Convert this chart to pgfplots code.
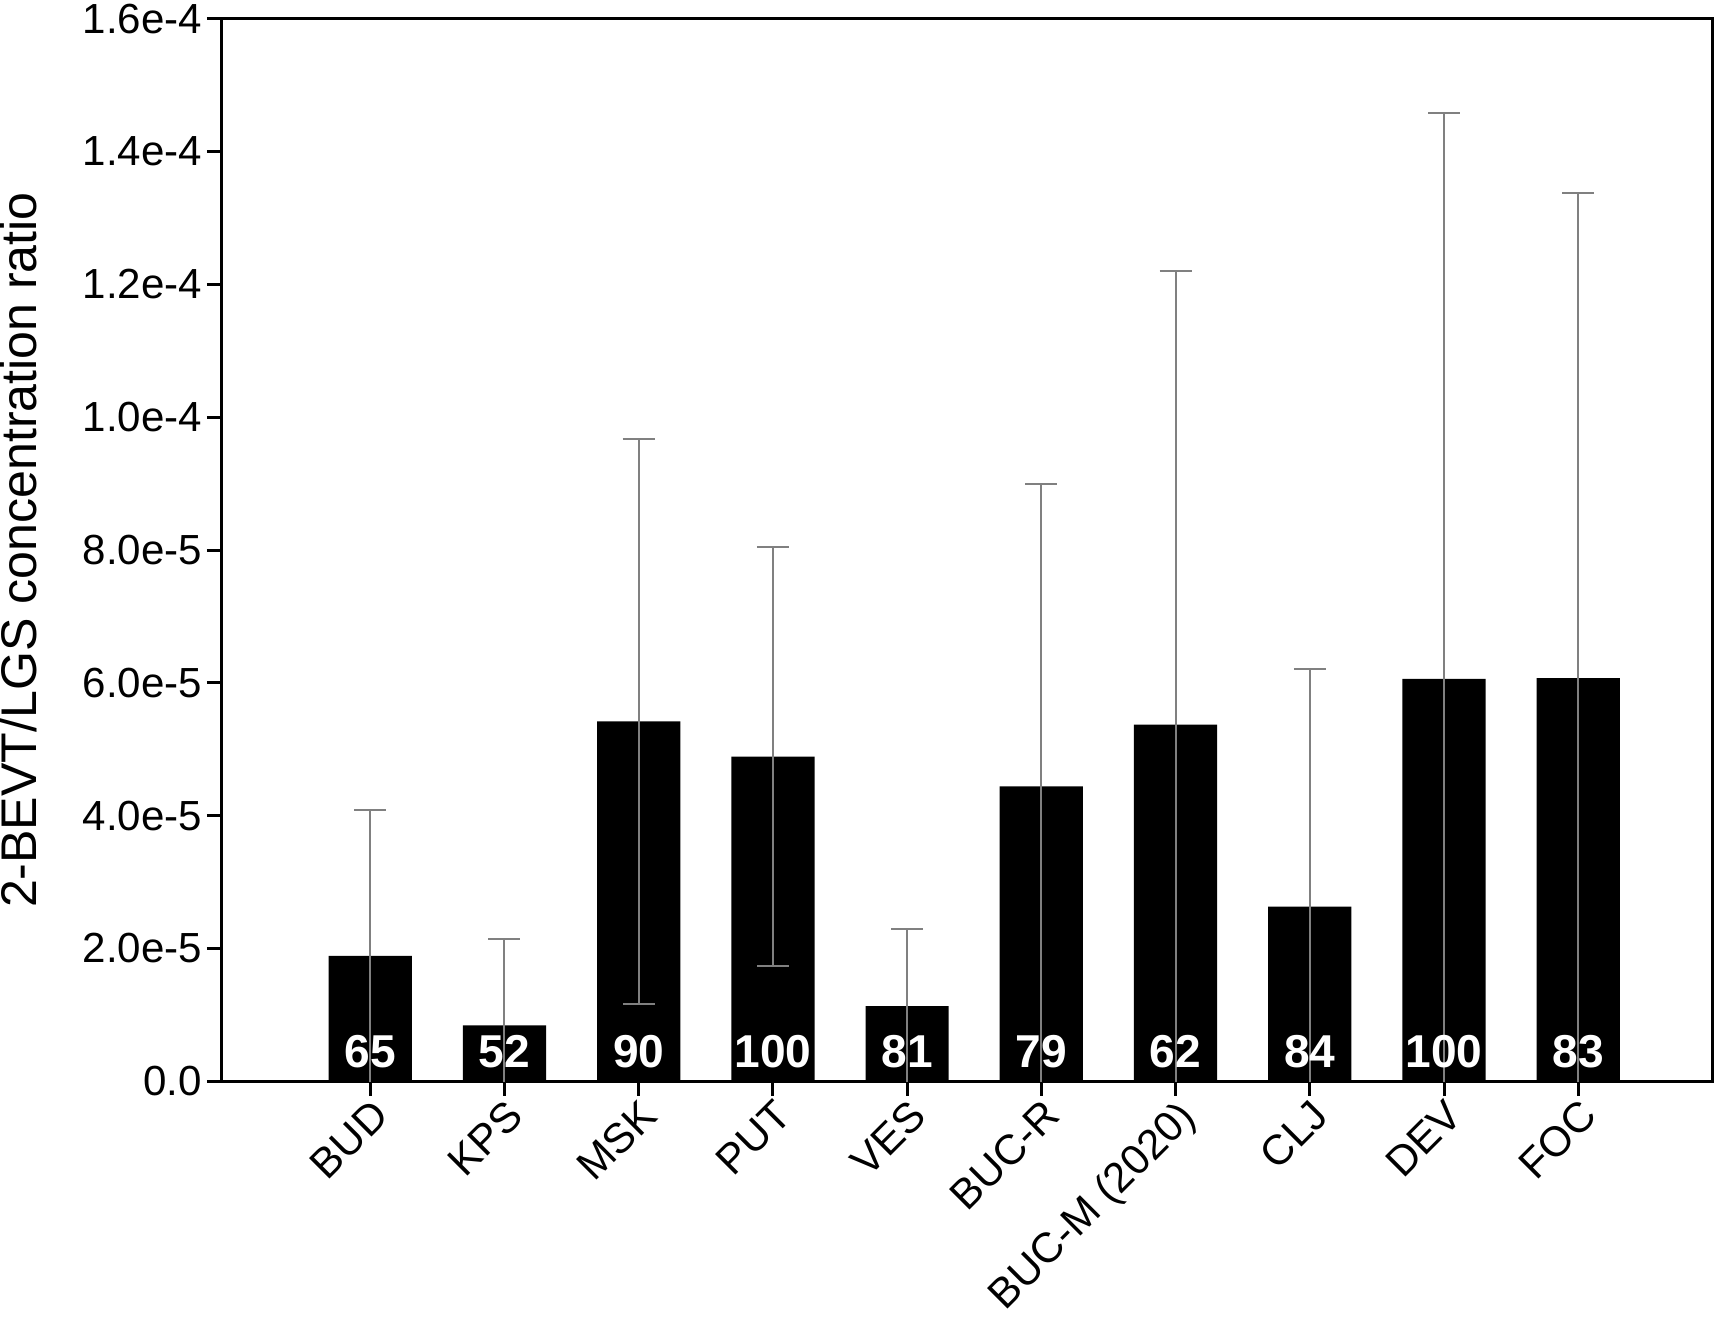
\documentclass[border=0pt]{standalone}
\usepackage{fontspec}
\setmainfont{Liberation Sans}
\usepackage{pgfplots}
\pgfplotsset{compat=1.18}

\begin{document}
\begin{tikzpicture}
\begin{axis}[
  width=372pt, height=265pt, scale only axis,
  xmin=-1.11, xmax=10,
  ymin=0, ymax=1.6e-4,
  axis line style={line width=0.75pt},
  tick align=outside,
  tick pos=left,
  major tick length=3.6pt,
  tick style={black, line width=0.75pt},
  xtick={0,...,9},
  xticklabels={BUD,KPS,MSK,PUT,VES,BUC-R,BUC-M (2020),CLJ,DEV,FOC},
  xticklabel shift=-4.5pt,
  xticklabel style={rotate=45, anchor=north east, font=\fontsize{10.5}{12}\selectfont},
  ytick={0,2e-5,4e-5,6e-5,8e-5,1e-4,1.2e-4,1.4e-4,1.6e-4},
  yticklabels={0.0,2.0e-5,4.0e-5,6.0e-5,8.0e-5,1.0e-4,1.2e-4,1.4e-4,1.6e-4},
  scaled y ticks=false,
  yticklabel style={font=\fontsize{10.5}{12}\selectfont, inner sep=1pt},
  ylabel={2-BEVT/LGS concentration ratio},
  every axis y label/.style={at={(axis description cs:-0.136,0.5)}, rotate=90, anchor=center, inner sep=0pt, font=\fontsize{12.5}{15}\selectfont},
]

% mean values
\addplot[ybar, bar width=0.62, fill=black, draw=none] coordinates {
  (0,1.89e-5) (1,0.84e-5) (2,5.42e-5) (3,4.89e-5) (4,1.13e-5)
  (5,4.44e-5) (6,5.37e-5) (7,2.63e-5) (8,6.06e-5) (9,6.07e-5)
};

% standard deviations
\addplot[draw=none, mark=none,
  error bars/.cd, y dir=both, y explicit,
  error mark=|,
  error bar style={draw=gray, line width=0.5pt},
  error mark options={draw=gray, line width=0.5pt, mark size=4pt}]
  coordinates {
  (0,1.89e-5) +- (0,2.19e-5)
  (1,0.84e-5) +- (0,1.30e-5)
  (2,5.42e-5) +- (0,4.26e-5)
  (3,4.89e-5) +- (0,3.15e-5)
  (4,1.13e-5) +- (0,1.16e-5)
  (5,4.44e-5) +- (0,4.56e-5)
  (6,5.37e-5) +- (0,6.84e-5)
  (7,2.63e-5) +- (0,3.58e-5)
  (8,6.06e-5) +- (0,8.52e-5)
  (9,6.07e-5) +- (0,7.31e-5)
};

% sample counts
\addplot[draw=none, nodes near coords, point meta=explicit symbolic,
  nodes near coords style={anchor=south, inner sep=0pt, yshift=3pt, text=white,
    font=\bfseries\fontsize{11.5}{14}\selectfont}]
  coordinates {
  (0,0) [65] (1,0) [52] (2,0) [90] (3,0) [100] (4,0) [81]
  (5,0) [79] (6,0) [62] (7,0) [84] (8,0) [100] (9,0) [83]
};

\end{axis}
\end{tikzpicture}
\end{document}
